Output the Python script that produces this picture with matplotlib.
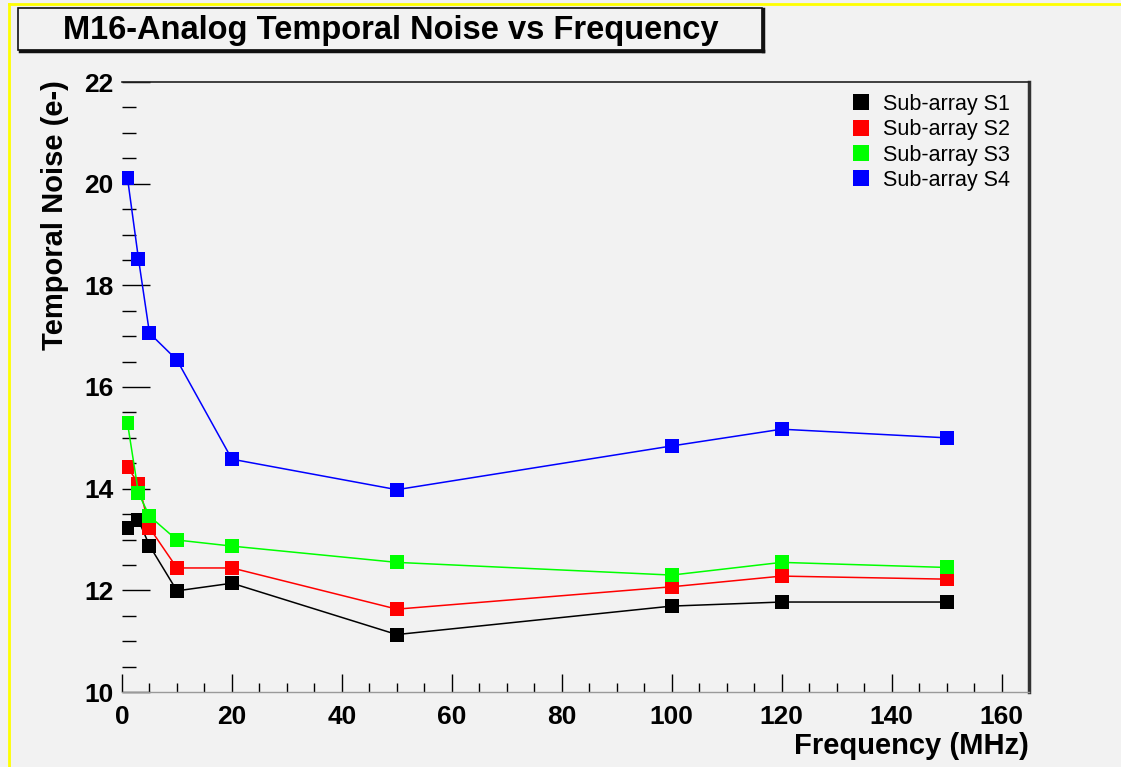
import matplotlib
matplotlib.use("Agg")
import matplotlib.pyplot as plt
from matplotlib.lines import Line2D
from matplotlib.patches import Rectangle
from matplotlib.ticker import MultipleLocator

# frequency points (MHz)
freq = [1, 3, 5, 10, 20, 50, 100, 120, 150]

# temporal noise (e-) per sub-array
noise_s1 = [13.22, 13.38, 12.88, 11.99, 12.14, 11.13, 11.69, 11.77, 11.77]
noise_s2 = [14.42, 14.10, 13.23, 12.44, 12.44, 11.63, 12.07, 12.28, 12.22]
noise_s3 = [15.29, 13.91, 13.46, 12.99, 12.87, 12.55, 12.30, 12.55, 12.45]
noise_s4 = [20.11, 18.52, 17.06, 16.53, 14.58, 13.98, 14.84, 15.17, 15.00]

labels = ["Sub-array S1", "Sub-array S2", "Sub-array S3", "Sub-array S4"]
colors = ["#000000", "#ff0000", "#00ff00", "#0000ff"]

bg = "#f2f2f2"
plt.rcParams["font.family"] = ["Liberation Sans", "DejaVu Sans"]

W, H = 1121, 767
fig = plt.figure(figsize=(W / 100, H / 100), dpi=100, facecolor=bg)
ax = fig.add_axes([122 / W, 1 - 692 / H, (1029 - 122) / W, (692 - 82) / H], facecolor=bg)

for y, lab, col in zip([noise_s1, noise_s2, noise_s3, noise_s4], labels, colors):
    ax.plot(freq, y, color=col, lw=1.1, marker="s", ms=10, mew=0, label=lab)

ax.set_xlim(0, 165)
ax.set_ylim(10, 22)
ax.xaxis.set_major_locator(MultipleLocator(20))
ax.xaxis.set_minor_locator(MultipleLocator(5))
ax.yaxis.set_major_locator(MultipleLocator(2))
ax.yaxis.set_minor_locator(MultipleLocator(0.5))
ax.tick_params(axis="x", which="major", direction="in", length=13, width=1, pad=9,
               labelsize=19)
ax.tick_params(axis="x", which="minor", direction="in", length=6.5, width=1)
ax.tick_params(axis="y", which="major", direction="in", length=20, width=1, pad=6,
               labelsize=19)
ax.tick_params(axis="y", which="minor", direction="in", length=10, width=1)
for t in ax.get_xticklabels() + ax.get_yticklabels():
    t.set_fontweight("bold")

ax.spines["left"].set_visible(False)
ax.spines["bottom"].set_color("#9a9a9a")
ax.spines["bottom"].set_linewidth(1)
ax.spines["top"].set_color("#222222")
ax.spines["top"].set_linewidth(1.2)
ax.spines["right"].set_color("#333333")
ax.spines["right"].set_linewidth(2.5)

ax.set_xlabel("Frequency (MHz)", fontsize=21, fontweight="bold", loc="right")
ax.xaxis.set_label_coords(1.0, -0.066)
ax.set_ylabel("Temporal Noise (e-)", fontsize=21, fontweight="bold", loc="top")
ax.yaxis.set_label_coords(-0.058, 1.003)

ax.legend(loc="upper left", bbox_to_anchor=((852 - 122) / 907, (692 - 94) / 610),
          frameon=False, fontsize=15.5, handlelength=0.8, handletextpad=0.65,
          labelspacing=0.2, borderaxespad=0, borderpad=0, markerscale=1.1)
for h in ax.get_legend().legend_handles:
    h.set_linestyle("none")

# title box with shadow
fig.add_artist(Rectangle((18 / W, 1 - 50 / H), (762 - 18) / W, 42 / H,
                         transform=fig.transFigure, facecolor=bg,
                         edgecolor="#111111", lw=1.2))
fig.add_artist(Line2D([20 / W, 763 / W], [1 - 51 / H, 1 - 51 / H],
                      transform=fig.transFigure, color="#111111", lw=2.5))
fig.add_artist(Line2D([763 / W, 763 / W], [1 - 51 / H, 1 - 9 / H],
                      transform=fig.transFigure, color="#111111", lw=2.5))
fig.text(391 / W, 1 - 30 / H, "M16-Analog Temporal Noise vs Frequency",
         fontsize=23.5, fontweight="bold", ha="center", va="center")

# yellow pad border
fig.add_artist(Line2D([9 / W, 9 / W], [0, 1 - 4 / H], transform=fig.transFigure,
                      color="#ffff00", lw=2))
fig.add_artist(Line2D([9 / W, 1], [1 - 4 / H, 1 - 4 / H], transform=fig.transFigure,
                      color="#ffff00", lw=2))

fig.savefig("out.png", dpi=100, facecolor=bg)
